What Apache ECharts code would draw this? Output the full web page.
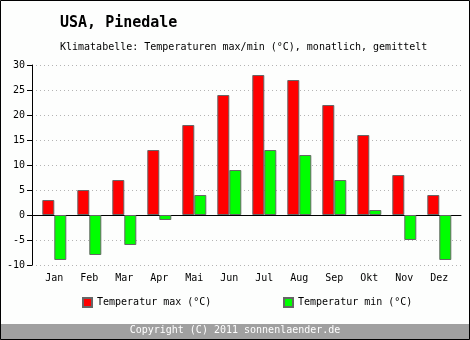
<!DOCTYPE html>
<html>
<head>
<meta charset="utf-8">
<script src="https://cdn.jsdelivr.net/npm/echarts@6/dist/echarts.min.js"></script>
<style>
html,body{margin:0;padding:0;background:#fdfefd;}
#c{width:470px;height:340px;}
</style>
</head>
<body>
<div id="c"></div>
<script>
var months = ['Jan','Feb','Mar','Apr','Mai','Jun','Jul','Aug','Sep','Okt','Nov','Dez'];
var tempMax = [3, 5, 7, 13, 18, 24, 28, 27, 22, 16, 8, 4];
var tempMin = [-9, -8, -6, -1, 4, 9, 13, 12, 7, 1, -5, -9];
var yTicks = {min: -10, max: 30, interval: 5};
var nameMax = 'Temperatur max (°C)';
var nameMin = 'Temperatur min (°C)';

var FONT = 'DejaVu Sans Mono';
var chart = echarts.init(document.getElementById('c'), null, {renderer: 'canvas'});
chart.setOption({
  backgroundColor: '#fdfefd',
  animation: false,
  textStyle: {fontFamily: FONT},
  title: [
    {text: 'USA, Pinedale', left: 60, top: 16, padding: 0, textStyle: {fontFamily: FONT, fontSize: 15, fontWeight: 'bold', color: '#000'}},
    {text: 'Klimatabelle: Temperaturen max/min (°C), monatlich, gemittelt', left: 60, top: 42, padding: 0, textStyle: {fontFamily: FONT, fontSize: 10, fontWeight: 'normal', color: '#000'}},
    {text: 'Copyright (C) 2011 sonnenlaender.de', left: 'center', top: 325, padding: 0, textStyle: {fontFamily: FONT, fontSize: 10, fontWeight: 'normal', color: '#fff'}}
  ],
  graphic: [
    {type: 'rect', shape: {x: 0, y: 324, width: 470, height: 16}, style: {fill: '#a0a0a0'}, z: -1},
    {type: 'rect', shape: {x: 0.5, y: 0.5, width: 469, height: 339}, style: {fill: null, stroke: '#000', lineWidth: 1}, z: 100}
  ],
  legend: [
    {data: [nameMax], left: 82, top: 297, itemWidth: 9, itemHeight: 9, itemGap: 6, icon: 'rect',
     textStyle: {fontFamily: FONT, fontSize: 10, color: '#000'}, padding: 0},
    {data: [nameMin], left: 283, top: 297, itemWidth: 9, itemHeight: 9, itemGap: 6, icon: 'rect',
     textStyle: {fontFamily: FONT, fontSize: 10, color: '#000'}, padding: 0}
  ],
  grid: [
    {left: 32, right: 9, top: 65, height: 200, containLabel: false},
    {left: 36.8, width: 420, top: 65, height: 200, containLabel: false}
  ],
  xAxis: [
    {gridIndex: 0, type: 'value', min: 0, max: 1,
     axisLine: {show: true, onZero: true, lineStyle: {color: '#000', width: 1}},
     axisTick: {show: false}, axisLabel: {show: false}, splitLine: {show: false}},
    {gridIndex: 1, type: 'category', data: months,
     axisLine: {show: false, onZero: false}, axisTick: {show: false},
     axisLabel: {fontFamily: FONT, fontSize: 10, color: '#000', margin: 8},
     splitLine: {show: false}}
  ],
  yAxis: [
    {gridIndex: 0, type: 'value', min: yTicks.min, max: yTicks.max, interval: yTicks.interval,
     axisLine: {show: true, lineStyle: {color: '#000', width: 1}},
     axisTick: {show: true, length: 5, lineStyle: {color: '#000'}},
     axisLabel: {fontFamily: FONT, fontSize: 10, color: '#000', margin: 7},
     splitLine: {show: true, lineStyle: {color: '#b4b4b4', type: [1, 3], width: 1}}},
    {gridIndex: 1, type: 'value', min: yTicks.min, max: yTicks.max, interval: yTicks.interval, show: false,
     splitLine: {show: false}}
  ],
  series: [
    {name: nameMax, type: 'bar', xAxisIndex: 1, yAxisIndex: 1, data: tempMax, barWidth: 12, barGap: '0%',
     itemStyle: {color: '#ff0000', borderColor: '#666', borderWidth: 1}},
    {name: nameMin, type: 'bar', xAxisIndex: 1, yAxisIndex: 1, data: tempMin, barWidth: 12, barGap: '0%',
     itemStyle: {color: '#00ff00', borderColor: '#666', borderWidth: 1}}
  ]
});
</script>
</body>
</html>
